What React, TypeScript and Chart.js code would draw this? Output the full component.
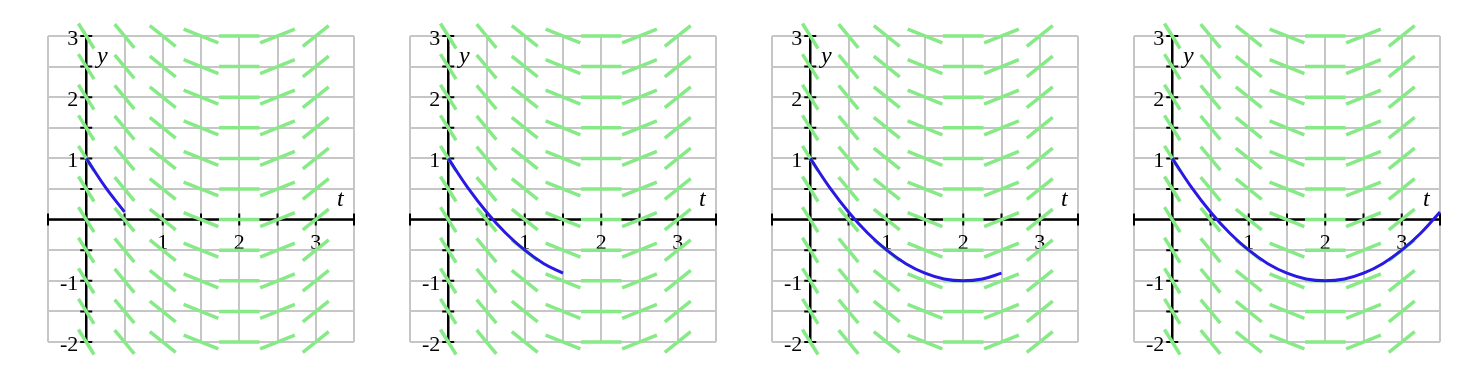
import React, { useEffect, useRef } from 'react';
import { Chart, registerables } from 'chart.js';

Chart.register(...registerables);

// ---- data ----
const fieldT = [0, 0.5, 1, 1.5, 2, 2.5, 3];
const fieldSlopes = [-2, -1.5, -1, -0.5, 0, 0.5, 1];
const fieldY = [-2, -1.5, -1, -0.5, 0, 0.5, 1, 1.5, 2, 2.5, 3];

const curveT = [0, 0.25, 0.5, 0.75, 1, 1.25, 1.5, 1.75, 2, 2.25, 2.5, 2.75, 3, 3.25, 3.5];
const curveY = [1, 0.53, 0.125, -0.22, -0.5, -0.72, -0.875, -0.97, -1, -0.97, -0.875, -0.72, -0.5, -0.22, 0.125];
const panelEndT = [0.5, 1.5, 2.5, 3.5];

const axisTicksT = [-0.5, 0, 0.5, 1, 1.5, 2, 2.5, 3, 3.5];
const axisTicksY = [-2, -1.5, -1, -0.5, 0.5, 1, 1.5, 2, 2.5, 3];
const xTickValues = [1, 2, 3];
const xTickLabels = ['1', '2', '3'];
const yTickValues = [3, 2, 1, -1, -2];
const yTickLabels = ['3', '2', '1', '-1', '-2'];

const T_MIN = -0.5;
const T_MAX = 3.5;
const Y_MIN = -2;
const Y_MAX = 3;

const GREEN = '#86ea86';
const BLUE = '#2a18e4';
const GRID = '#c6c6c6';
const FONT = '"Liberation Serif", "DejaVu Serif", serif';

const PANEL_W = 362;
const PANEL_H = 372;

const overlayPlugin = {
  id: 'overlay',
  beforeDatasetsDraw(chart: any) {
    const { ctx } = chart;
    const xs = chart.scales.x;
    const ys = chart.scales.y;
    const x0 = xs.getPixelForValue(0);
    const y0 = ys.getPixelForValue(0);
    ctx.save();
    ctx.strokeStyle = '#000';
    ctx.lineCap = 'butt';
    ctx.lineWidth = 2.5;
    ctx.beginPath();
    ctx.moveTo(xs.getPixelForValue(T_MIN), y0);
    ctx.lineTo(xs.getPixelForValue(T_MAX), y0);
    ctx.moveTo(x0, ys.getPixelForValue(Y_MIN));
    ctx.lineTo(x0, ys.getPixelForValue(Y_MAX));
    ctx.stroke();
    ctx.lineWidth = 2;
    ctx.beginPath();
    for (const v of axisTicksT) {
      const px = xs.getPixelForValue(v);
      ctx.moveTo(px, y0 - 6);
      ctx.lineTo(px, y0 + 6);
    }
    for (const v of axisTicksY) {
      const py = ys.getPixelForValue(v);
      ctx.moveTo(x0 - 6, py);
      ctx.lineTo(x0 + 6, py);
    }
    ctx.stroke();

    ctx.fillStyle = '#000';
    ctx.font = `22px ${FONT}`;
    ctx.textBaseline = 'middle';
    ctx.textAlign = 'right';
    yTickValues.forEach((v, i) => {
      ctx.fillText(yTickLabels[i], x0 - 8, ys.getPixelForValue(v) + 3);
    });
    ctx.textAlign = 'center';
    xTickValues.forEach((v, i) => {
      ctx.fillText(xTickLabels[i], xs.getPixelForValue(v), y0 + 24);
    });
    ctx.font = `italic 24px ${FONT}`;
    ctx.fillText('t', xs.getPixelForValue(3.32), ys.getPixelForValue(0.33));
    ctx.fillText('y', xs.getPixelForValue(0.21), ys.getPixelForValue(2.66));
    ctx.restore();
  },
};

function buildDatasets(endT: number) {
  const ds: any[] = [];
  const curve = curveT
    .map((t, i) => ({ x: t, y: curveY[i] }))
    .filter((p) => p.x <= endT + 1e-9);
  ds.push({
    data: curve,
    borderColor: BLUE,
    borderWidth: 3,
    pointRadius: 0,
    tension: 0.4,
    fill: false,
    clip: false,
    order: 0,
  });
  fieldT.forEach((t, i) => {
    const m = fieldSlopes[i];
    const dt = 0.265 / Math.sqrt(1 + 1.44 * m * m);
    fieldY.forEach((yv) => {
      ds.push({
        data: [
          { x: t - dt, y: yv - m * dt },
          { x: t + dt, y: yv + m * dt },
        ],
        borderColor: GREEN,
        borderWidth: 3.5,
        pointRadius: 0,
        tension: 0,
        fill: false,
        clip: false,
        order: 1,
      });
    });
  });
  return ds;
}

function Panel({ endT, left }: { endT: number; left: number }) {
  const ref = useRef<HTMLCanvasElement | null>(null);
  useEffect(() => {
    if (!ref.current) return;
    const chart = new Chart(ref.current, {
      type: 'line',
      data: { datasets: buildDatasets(endT) },
      options: {
        responsive: false,
        animation: false,
        events: [],
        layout: { padding: { left: 48, right: 8, top: 36, bottom: 30 } },
        plugins: { legend: { display: false }, tooltip: { enabled: false } },
        scales: {
          x: {
            type: 'linear',
            min: T_MIN,
            max: T_MAX,
            ticks: { display: false, stepSize: 0.5 },
            grid: { color: GRID, lineWidth: 2, drawTicks: false },
            border: { display: false },
            afterFit: (s: any) => {
              s.height = 0;
            },
          },
          y: {
            type: 'linear',
            min: Y_MIN,
            max: Y_MAX,
            ticks: { display: false, stepSize: 0.5 },
            grid: { color: GRID, lineWidth: 2, drawTicks: false },
            border: { display: false },
            afterFit: (s: any) => {
              s.width = 0;
            },
          },
        },
      } as any,
      plugins: [overlayPlugin],
    });
    return () => chart.destroy();
  }, [endT]);
  return (
    <div style={{ position: 'absolute', left, top: 0, width: PANEL_W, height: PANEL_H }}>
      <canvas ref={ref} width={PANEL_W} height={PANEL_H} style={{ display: 'block' }} />
    </div>
  );
}

export default function App() {
  return (
    <div style={{ position: 'absolute', left: 0, top: 0, width: 1482, height: 372, background: '#fff' }}>
      {panelEndT.map((e, i) => (
        <Panel key={i} endT={e} left={i * PANEL_W} />
      ))}
    </div>
  );
}
